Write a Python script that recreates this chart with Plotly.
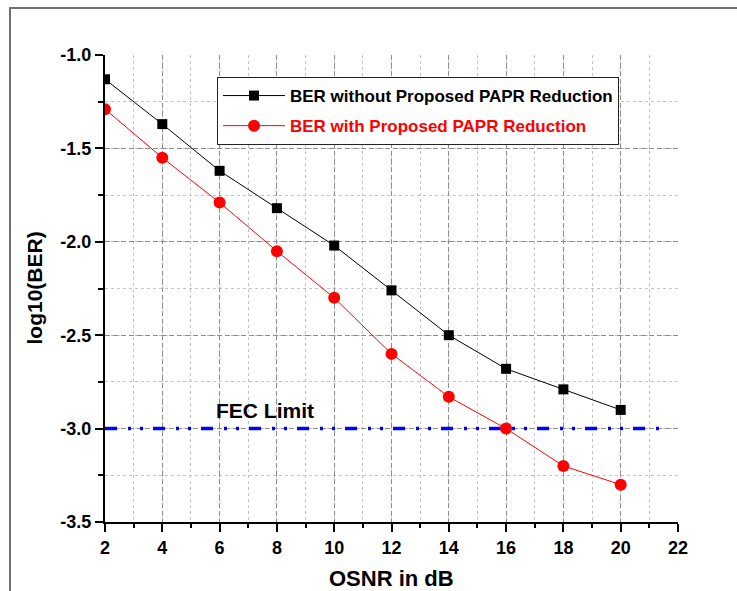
import plotly.graph_objects as go

osnr = [2, 4, 6, 8, 10, 12, 14, 16, 18, 20]
ber_without = [-1.13, -1.37, -1.62, -1.82, -2.02, -2.26, -2.50, -2.68, -2.79, -2.90]
ber_with = [-1.29, -1.55, -1.79, -2.05, -2.30, -2.60, -2.83, -3.00, -3.20, -3.30]
fec_x = [2, 21.4]
fec_y = [-3.0, -3.0]
x_ticks = [2, 4, 6, 8, 10, 12, 14, 16, 18, 20, 22]
y_ticks = [-3.5, -3.0, -2.5, -2.0, -1.5, -1.0]
y_labels = ["-3.5", "-3.0", "-2.5", "-2.0", "-1.5", "-1.0"]
name_without = "BER without Proposed PAPR Reduction"
name_with = "BER with Proposed PAPR Reduction"

FONT = "Liberation Sans, Arial, sans-serif"

fig = go.Figure()
fig.add_trace(go.Scatter(
    x=fec_x, y=fec_y, mode="lines", showlegend=False,
    line=dict(color="#0000ff", width=3.5, dash="12px,11px,3px,9px,3px,10px"),
))
fig.add_trace(go.Scatter(
    x=osnr, y=ber_without, mode="lines+markers", name="<b>" + name_without + "</b>",
    legendgroup="a",
    line=dict(color="black", width=1),
    marker=dict(symbol="square", size=10, color="black"),
))
fig.add_trace(go.Scatter(
    x=osnr, y=ber_with, mode="lines+markers",
    name="<b><span style='color:red'>" + name_with + "</span></b>",
    legendgroup="b",
    line=dict(color="red", width=1),
    marker=dict(symbol="circle", size=12, color="red"),
))

axis_common = dict(
    showline=True, linecolor="black", linewidth=2,
    ticks="outside", ticklen=8, tickwidth=2, tickcolor="black",
    showgrid=True, gridcolor="#8c8c8c", griddash="5px,3px", gridwidth=1,
    zeroline=False,
    tickfont=dict(family=FONT, size=18, color="black", weight="bold"),
)

fig.update_xaxes(
    range=[2, 22], tickmode="array", tickvals=x_ticks,
    ticktext=[str(v) for v in x_ticks],
    minor=dict(dtick=1, ticklen=4, tickwidth=2, tickcolor="black", ticks="outside",
               showgrid=True, gridcolor="#c4c4c4", griddash="dot", gridwidth=1),
    **axis_common,
)
fig.update_yaxes(
    range=[-3.5, -1.0], tickmode="array", tickvals=y_ticks,
    ticktext=y_labels,
    minor=dict(dtick=0.25, tick0=-3.5, ticklen=5, tickwidth=2, tickcolor="black", ticks="outside",
               showgrid=True, gridcolor="#c4c4c4", griddash="dot", gridwidth=1),
    **axis_common,
)

plot_l, plot_r, plot_t, plot_b = 105, 678, 55, 522
pw, ph = plot_r - plot_l, plot_b - plot_t

fig.update_layout(
    width=737, height=591,
    margin=dict(l=plot_l, r=737 - plot_r, t=plot_t, b=591 - plot_b),
    paper_bgcolor="white", plot_bgcolor="white",
    showlegend=True,
    legend=dict(
        x=(217 - plot_l) / pw, y=1 - (77 - plot_t) / ph, xanchor="left", yanchor="top",
        bgcolor="white", bordercolor="#222222", borderwidth=1,
        font=dict(family=FONT, size=17, color="black"),
        itemwidth=62, traceorder="grouped", tracegroupgap=5,
    ),
    shapes=[dict(
        type="rect", xref="paper", yref="paper",
        x0=(10 - plot_l) / pw, x1=1.3, y0=1 + (plot_t - 8) / ph, y1=-0.4,
        line=dict(color="#707070", width=2), layer="below",
    )],
    annotations=[
        dict(text="<b>FEC Limit</b>", x=7.6, y=-2.905, xref="x", yref="y",
             showarrow=False, font=dict(family=FONT, size=21, color="black")),
        dict(text="<b>log10(BER)</b>", x=(34 - plot_l) / pw, y=0.5, xref="paper", yref="paper",
             xanchor="center", yanchor="middle",
             showarrow=False, textangle=-90,
             font=dict(family=FONT, size=21, color="black")),
        dict(text="<b>OSNR in dB</b>", x=0.5, y=(plot_b - 578) / ph, xref="paper", yref="paper",
             xanchor="center", yanchor="middle",
             showarrow=False,
             font=dict(family=FONT, size=22, color="black")),
    ],
)

fig.write_html("out.html")
